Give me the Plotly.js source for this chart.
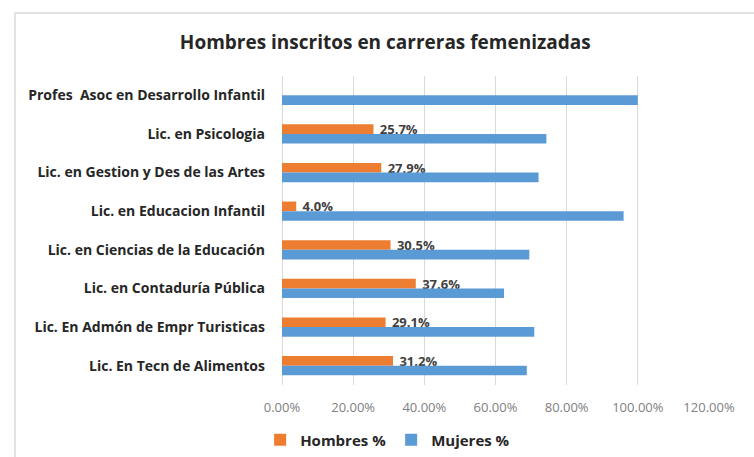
<!DOCTYPE html>
<html>
<head>
<meta charset="utf-8">
<script src="https://cdn.plot.ly/plotly-3.0.1.min.js"></script>
<style>
  html, body { margin: 0; padding: 0; background: #ffffff; }
  #chart { width: 754px; height: 457px; position: absolute; left: 0; top: 0; }
  #frame { position: absolute; left: 14px; top: 12px; width: 740px; height: 445px;
           border-left: 2px solid #e2e2e2; border-top: 2px solid #e2e2e2; pointer-events: none; }
</style>
</head>
<body>
<div id="chart"></div>
<div id="frame"></div>
<script>
// Categories (top to bottom as shown)
const categories = [
  "Profes\u00a0 Asoc en Desarrollo Infantil",
  "Lic. en Psicologia",
  "Lic. en Gestion y Des de las Artes",
  "Lic. en Educacion Infantil",
  "Lic. en Ciencias de la Educación",
  "Lic. en Contaduría Pública",
  "Lic. En Admón de Empr Turisticas",
  "Lic. En Tecn de Alimentos"
];
// Series values (fractions)
const hombres = [0.000, 0.257, 0.279, 0.040, 0.305, 0.376, 0.291, 0.312];
const mujeres = [1.000, 0.743, 0.721, 0.960, 0.695, 0.624, 0.709, 0.688];
const seriesNames = ["Hombres %", "Mujeres %"];
const titleText = "Hombres inscritos en carreras femenizadas";

const hombresLabels = hombres.map(v => v > 0 ? "\u00a0" + (v * 100).toFixed(1) + "%" : "");

const FONT = "'Open Sans', sans-serif";

const traces = [
  {
    type: "bar", orientation: "h", name: seriesNames[0],
    y: categories, x: hombres,
    marker: { color: "#ED7D31" },
    text: hombresLabels, textposition: "outside", constraintext: "none", cliponaxis: false,
    textfont: { family: FONT, size: 13, color: "#404040", weight: "bold" },
    hoverinfo: "x+y"
  },
  {
    type: "bar", orientation: "h", name: seriesNames[1],
    y: categories, x: mujeres,
    marker: { color: "#5B9BD5" },
    hoverinfo: "x+y"
  }
];

const layout = {
  width: 754, height: 457,
  margin: { l: 282, r: 45, t: 76, b: 72, pad: 0, autoexpand: false },
  paper_bgcolor: "#ffffff", plot_bgcolor: "#ffffff",
  font: { family: FONT, color: "#262626" },
  title: {
    text: titleText,
    font: { family: FONT, size: 19, color: "#262626", weight: "bold" },
    xref: "container", x: 0.511, xanchor: "center",
    yref: "container", y: 0.908, yanchor: "middle"
  },
  barmode: "group", bargap: 0.5, bargroupgap: 0,
  xaxis: {
    range: [0, 1.2], dtick: 0.2, tick0: 0, tickformat: ".2%",
    showgrid: true, gridcolor: "#d9d9d9", gridwidth: 1,
    zeroline: true, zerolinecolor: "#d9d9d9", zerolinewidth: 1,
    showline: false, ticks: "",
    ticklabelstandoff: 13,
    tickfont: { family: FONT, size: 13, color: "#808080" },
    fixedrange: true
  },
  yaxis: {
    type: "category", autorange: "reversed",
    showgrid: false, zeroline: false, showline: false, ticks: "",
    ticklabelstandoff: 16,
    tickfont: { family: FONT, size: 14, color: "#262626", weight: "bold" },
    fixedrange: true
  },
  showlegend: true,
  legend: {
    orientation: "h", traceorder: "normal",
    xref: "container", x: 0.345, xanchor: "left",
    yref: "container", y: 0.037, yanchor: "middle",
    font: { family: FONT, size: 15, color: "#262626", weight: "bold" },
    itemwidth: 30
  }
};

Plotly.newPlot("chart", traces, layout, { displayModeBar: false, staticPlot: true });
</script>
</body>
</html>
